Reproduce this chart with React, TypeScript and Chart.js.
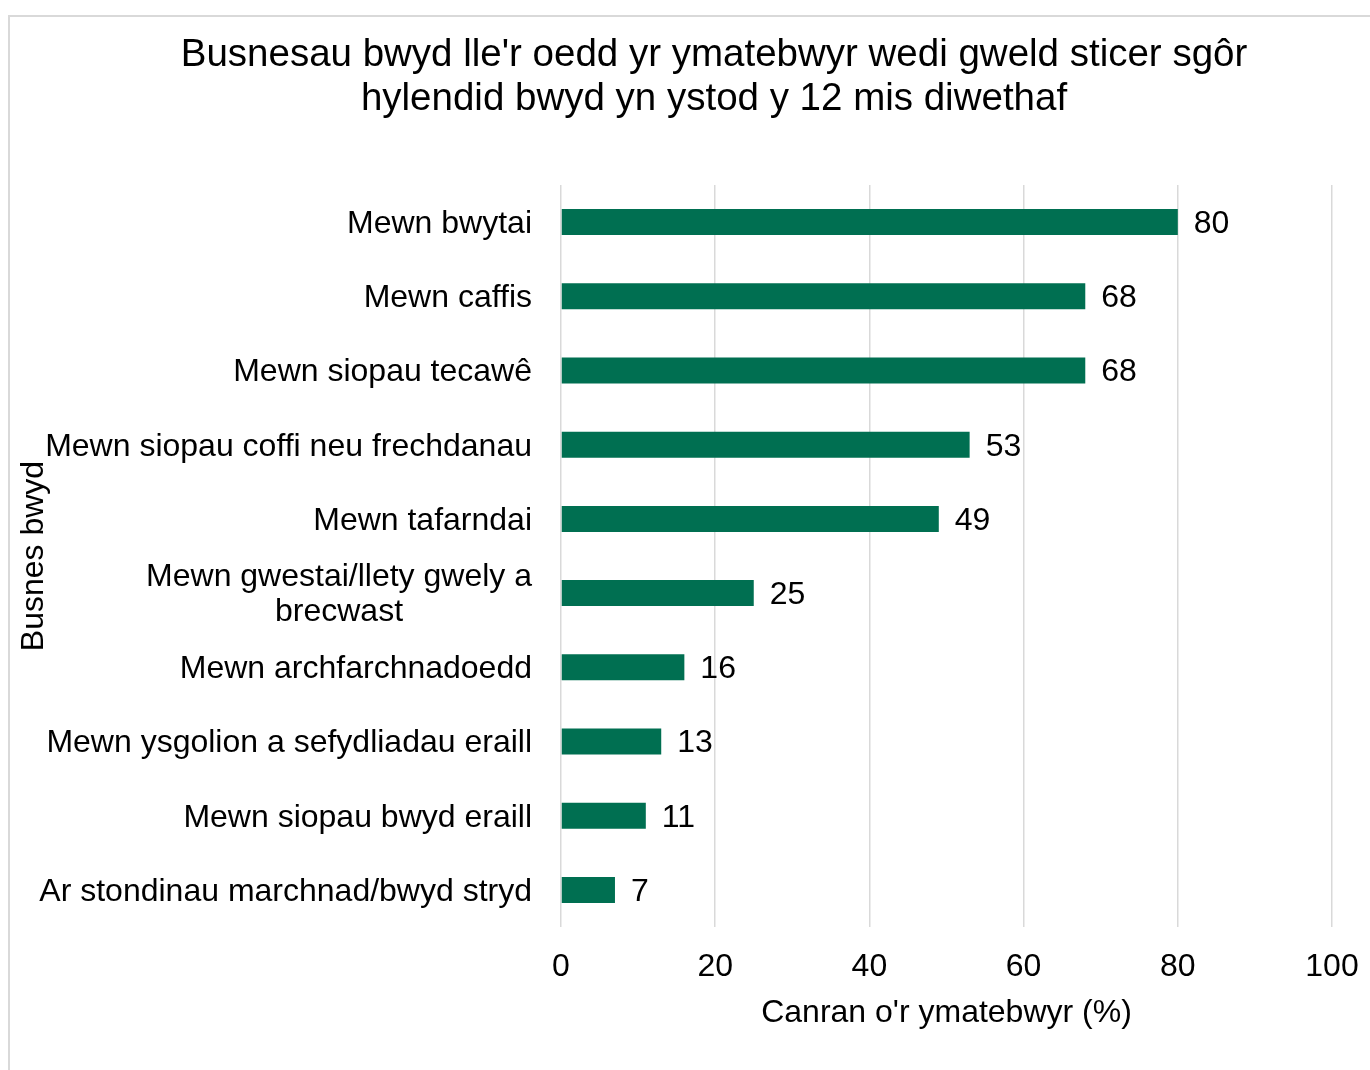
import { useEffect, useRef } from 'react';
import { Chart, registerables } from 'chart.js';

Chart.register(...registerables);

const titleLines = [
  "Busnesau bwyd lle'r oedd yr ymatebwyr wedi gweld sticer sgôr",
  'hylendid bwyd yn ystod y 12 mis diwethaf',
];
const categories: string[][] = [
  ['Mewn bwytai'],
  ['Mewn caffis'],
  ['Mewn siopau tecawê'],
  ['Mewn siopau coffi neu frechdanau'],
  ['Mewn tafarndai'],
  ['Mewn gwestai/llety gwely a', 'brecwast'],
  ['Mewn archfarchnadoedd'],
  ['Mewn ysgolion a sefydliadau eraill'],
  ['Mewn siopau bwyd eraill'],
  ['Ar stondinau marchnad/bwyd stryd'],
];
const values = [80, 68, 68, 53, 49, 25, 16, 13, 11, 7];
const xMin = 0;
const xMax = 100;
const xStep = 20;
const xAxisTitle = "Canran o'r ymatebwyr (%)";
const yAxisTitle = 'Busnes bwyd';

const FONT = '"Liberation Sans", Arial, sans-serif';
const BAR = '#006F51';
const GRID = '#D9D9D9';

export default function App() {
  const ref = useRef<HTMLCanvasElement | null>(null);

  useEffect(() => {
    if (!ref.current) return;
    Chart.defaults.font.family = FONT;
    const titlePlugin = {
      id: 'bigTitle',
      afterDraw(chart: any) {
        const ctx = chart.ctx;
        ctx.save();
        ctx.font = `38.5px ${FONT}`;
        ctx.fillStyle = '#000';
        ctx.textAlign = 'center';
        ctx.textBaseline = 'middle';
        titleLines.forEach((t, i) => ctx.fillText(t, chart.width / 2, 55 + i * 44));
        ctx.restore();
      },
    };
    const yLabelPlugin = {
      id: 'yLabels',
      afterDraw(chart: any) {
        const ctx = chart.ctx;
        const ys = chart.scales.y;
        ctx.save();
        ctx.font = `32px ${FONT}`;
        ctx.fillStyle = '#000';
        ctx.textAlign = 'center';
        ctx.textBaseline = 'middle';
        const right = chart.chartArea.left - 29;
        categories.forEach((lines, i) => {
          const cy = ys.getPixelForTick(i) + 2;
          const w = Math.max(...lines.map((l) => ctx.measureText(l).width));
          const cx = right - w / 2;
          const lh = 35;
          const y0 = cy - ((lines.length - 1) * lh) / 2;
          lines.forEach((l, j) => ctx.fillText(l, cx, y0 + j * lh));
        });
        ctx.restore();
      },
    };
    const dataLabelPlugin = {
      id: 'dataLabels',
      afterDatasetsDraw(chart: any) {
        const ctx = chart.ctx;
        const meta = chart.getDatasetMeta(0);
        ctx.save();
        ctx.font = `32px ${FONT}`;
        ctx.fillStyle = '#000';
        ctx.textAlign = 'left';
        ctx.textBaseline = 'middle';
        meta.data.forEach((bar: any, i: number) => {
          ctx.fillText(String(values[i]), bar.x + 16, bar.y + 2);
        });
        ctx.restore();
      },
    };

    const chart = new Chart(ref.current, {
      type: 'bar',
      data: {
        labels: categories,
        datasets: [
          {
            data: values,
            backgroundColor: BAR,
            borderWidth: 0,
            categoryPercentage: 1,
            barPercentage: 0.35,
          },
        ],
      },
      options: {
        indexAxis: 'y',
        animation: false,
        responsive: false,
        devicePixelRatio: 1,
        layout: { padding: { top: 185, right: 96, bottom: 0, left: 0 } },
        plugins: {
          legend: { display: false },
          title: { display: false },
          tooltip: { enabled: false },
        },
        scales: {
          x: {
            min: xMin,
            max: xMax,
            ticks: { stepSize: xStep, color: '#000', font: { size: 32 }, padding: 21, maxRotation: 0 },
            grid: { color: GRID, lineWidth: 1.5, drawTicks: false },
            border: { display: false },
            title: {
              display: true,
              text: xAxisTitle,
              color: '#000',
              font: { size: 32 },
              padding: { top: 0, bottom: 38 },
            },
            afterFit(scale: any) {
              scale.height = 143;
            },
          },
          y: {
            ticks: { display: false },
            grid: { display: false },
            border: { display: false },
            title: {
              display: true,
              text: yAxisTitle,
              color: '#000',
              font: { size: 32 },
              padding: { top: 15, bottom: 0 },
            },
            afterFit(scale: any) {
              scale.width = 561;
            },
          },
        },
      },
      plugins: [titlePlugin, yLabelPlugin, dataLabelPlugin],
    });
    return () => chart.destroy();
  }, []);

  return (
    <div style={{ position: 'absolute', left: 0, top: 0, width: 1370, height: 1070, overflow: 'hidden', background: '#fff' }}>
      <div
        style={{
          position: 'absolute',
          left: 8,
          top: 15,
          width: 1500,
          height: 1100,
          border: '2px solid #D9D9D9',
          boxSizing: 'border-box',
        }}
      />
      <canvas
        ref={ref}
        width={1428}
        height={1070}
        style={{ position: 'absolute', left: 0, top: 0, width: 1428, height: 1070 }}
      />
    </div>
  );
}
